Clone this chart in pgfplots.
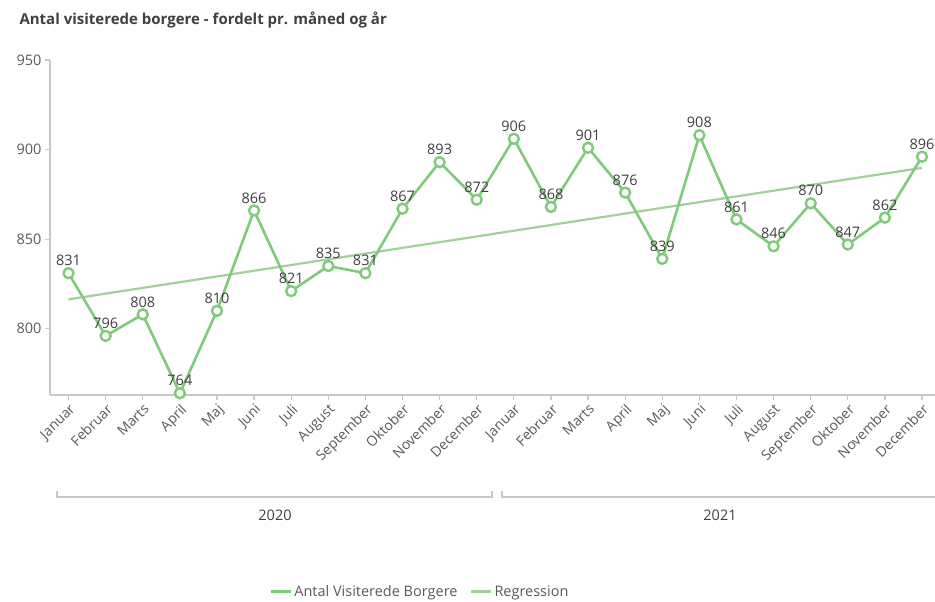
\documentclass[border=0pt]{standalone}
\usepackage{pgfplots}
\pgfplotsset{compat=1.18}
\usepackage{fontspec}
\setmainfont{Open Sans}
\definecolor{maingreen}{HTML}{7FCB7A}
\definecolor{reggreen}{HTML}{A3D09A}
\definecolor{axisgray}{HTML}{C8C8C8}
\definecolor{txtgray}{HTML}{5A5A5A}
\definecolor{lblgray}{HTML}{404040}
\begin{document}
\begin{tikzpicture}[x=1pt,y=1pt]
\path[use as bounding box] (0,0) rectangle (935,602);
\node[anchor=west, text=lblgray, font=\fontsize{15}{15}\selectfont\bfseries] at (16,582) {Antal visiterede borgere - fordelt pr. måned og år};
\begin{axis}[
  at={(50pt,207pt)}, anchor=south west,
  scale only axis, width=885pt, height=335pt,
  xmin=-0.5, xmax=23.35, ymin=763, ymax=950,
  axis x line*=bottom, axis y line*=left,
  axis line style={axisgray, line width=1.2pt},
  tick style={axisgray, line width=1.2pt},
  tick align=outside, major tick length=5pt,
  xtick={0,...,23},
  xticklabels={Januar,Februar,Marts,April,Maj,Juni,Juli,August,September,Oktober,November,December,Januar,Februar,Marts,April,Maj,Juni,Juli,August,September,Oktober,November,December},
  x tick label style={rotate=45, anchor=north east, font=\fontsize{14}{14}\selectfont, text=txtgray, inner sep=2pt},
  ytick={800,850,900,950},
  y tick label style={font=\fontsize{14.5}{14.5}\selectfont, text=txtgray},
  /pgf/number format/assume math mode=true,
  clip=false,
  legend columns=2,
  legend style={at={(0.418,-0.588)}, anchor=center, draw=none, fill=none,
    font=\fontsize{14.5}{14.5}\selectfont, text=txtgray,
    /tikz/every even column/.append style={column sep=10pt}},
  legend image code/.code={\draw[#1, line width=3pt] (0pt,0pt) -- (20pt,0pt);},
]
\addplot[reggreen, line width=2.2pt, forget plot] coordinates {(0,816.4) (23,889.8)};
\addplot[maingreen, line width=2.6pt, mark=*, mark size=5pt,
  mark options={fill=white, draw=maingreen, line width=2.4pt},
  nodes near coords,
  every node near coord/.append style={font=\fontsize{14.5}{14.5}\selectfont, text=lblgray, anchor=south, inner sep=1pt, yshift=5pt, /pgf/number format/assume math mode=true}]
coordinates {
(0,831) (1,796) (2,808) (3,764) (4,810) (5,866) (6,821) (7,835) (8,831) (9,867) (10,893) (11,872)
(12,906) (13,868) (14,901) (15,876) (16,839) (17,908) (18,861) (19,846) (20,870) (21,847) (22,862) (23,896)
};
\addlegendentry{Antal Visiterede Borgere}
\addlegendimage{reggreen}
\addlegendentry{Regression}
\end{axis}
\draw[axisgray, line width=1.2pt] (57,111) -- (57,105) -- (492,105) -- (492,111);
\draw[axisgray, line width=1.2pt] (502,111) -- (502,105) -- (935,105);
\node[text=lblgray, font=\fontsize{14.5}{14.5}\selectfont] at (275,87) {2020};
\node[text=lblgray, font=\fontsize{14.5}{14.5}\selectfont] at (720,87) {2021};
\end{tikzpicture}
\end{document}
